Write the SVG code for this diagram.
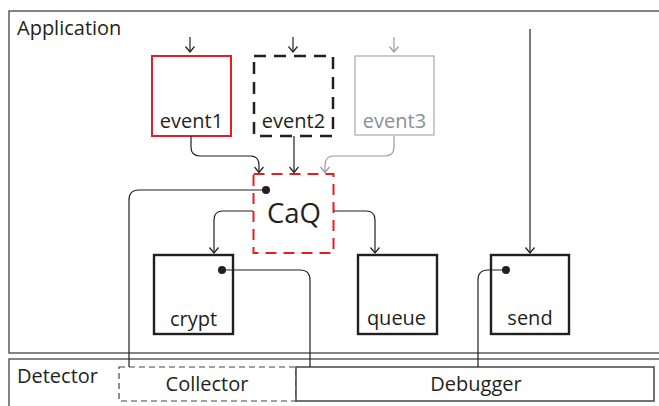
<svg xmlns="http://www.w3.org/2000/svg" width="659" height="406" viewBox="0 0 659 406">
<style>
text{font-family:"Open Sans","Noto Sans","Liberation Sans",sans-serif;fill:#231f20;font-size:20px}
.c{text-anchor:middle}
.frame{fill:none;stroke:#444;stroke-width:1.3}
.box{fill:#fff;stroke:#231f20;stroke-width:2.4}
.conn{fill:none;stroke:#231f20;stroke-width:1.2}
.gray{stroke:#9a9a9a}
</style>
<defs>
<marker id="ah" viewBox="-7 -6 8 12" markerWidth="8" markerHeight="12" refX="0" refY="0" orient="auto" markerUnits="userSpaceOnUse"><path d="M-5.5,-4.5 L0,0 L-5.5,4.5" fill="none" stroke="#231f20" stroke-width="1.2"/></marker>
<marker id="ahg" viewBox="-7 -6 8 12" markerWidth="8" markerHeight="12" refX="0" refY="0" orient="auto" markerUnits="userSpaceOnUse"><path d="M-5.5,-4.5 L0,0 L-5.5,4.5" fill="none" stroke="#9a9a9a" stroke-width="1.2"/></marker>
</defs>
<rect width="659" height="406" fill="#fff"/>
<g id="application">
<rect class="frame" x="9" y="11" width="660" height="342"/>
<text x="17" y="34.5">Application</text>
</g>
<g id="detector">
<rect class="frame" x="9" y="359" width="660" height="60"/>
<text x="17" y="383">Detector</text>
</g>
<g id="collector">
<rect x="119" y="367" width="177" height="34" fill="#fff" stroke="#444" stroke-width="1.2" stroke-dasharray="6,4"/>
<text class="c" x="207" y="391">Collector</text>
</g>
<g id="debugger">
<rect x="296" y="367" width="358" height="34" fill="#fff" stroke="#444" stroke-width="1.5"/>
<text class="c" x="476" y="391">Debugger</text>
</g>
<g id="event1">
<rect x="152" y="56" width="79" height="80" fill="#fff" stroke="#e31e24" stroke-width="2"/>
<text class="c" x="191.5" y="128">event1</text>
</g>
<g id="event2">
<rect x="254" y="56" width="79" height="80" fill="#fff" stroke="#231f20" stroke-width="2.5" stroke-dasharray="12,8"/>
<text class="c" x="293.5" y="128">event2</text>
</g>
<g id="event3">
<rect x="355" y="56" width="79" height="79" fill="#fff" stroke="#a8a8a8" stroke-width="1.2"/>
<text class="c" x="394.5" y="128" style="fill:#8a9096">event3</text>
</g>
<g id="caq">
<rect x="253.5" y="174" width="80" height="79" fill="#fff" stroke="#e31e24" stroke-width="2" stroke-dasharray="11,7"/>
<text class="c" x="294" y="222.5" style="font-size:27.5px">CaQ</text>
</g>
<g id="crypt">
<rect class="box" x="154" y="255" width="79" height="79"/>
<text class="c" x="193.5" y="326">crypt</text>
</g>
<g id="queue">
<rect class="box" x="358" y="255" width="79" height="79"/>
<text class="c" x="396.5" y="325">queue</text>
</g>
<g id="send">
<rect class="box" x="491" y="255" width="78" height="79"/>
<text class="c" x="530" y="325">send</text>
</g>
<g id="connectors">
<path class="conn" d="M190,37 V52" marker-end="url(#ah)"/>
<path class="conn" d="M293,37 V52" marker-end="url(#ah)"/>
<path class="conn gray" d="M394,37 V52" marker-end="url(#ahg)"/>
<path class="conn" d="M530,29 V253" marker-end="url(#ah)"/>
<path class="conn" d="M191,136 V147 Q191,156 200,156 H250 Q259,156 259,165 V172.5" marker-end="url(#ah)"/>
<path class="conn" d="M294,136 V172.5" marker-end="url(#ah)"/>
<path class="conn gray" d="M394,136 V147 Q394,156 385,156 H334 Q325,156 325,165 V172.5" marker-end="url(#ahg)"/>
<path class="conn" d="M253,211 H223 Q214,211 214,220 V253" marker-end="url(#ah)"/>
<path class="conn" d="M334,211 H366 Q375,211 375,220 V253" marker-end="url(#ah)"/>
<path class="conn" d="M266,190 H139 Q129,190 129,200 V367"/>
<path class="conn" d="M222,270 H300 Q310,270 310,280 V367"/>
<path class="conn" d="M506,270 H488 Q478,270 478,280 V367"/>
<circle cx="266" cy="190" r="4" fill="#231f20"/>
<circle cx="222" cy="270" r="4" fill="#231f20"/>
<circle cx="506" cy="270" r="4" fill="#231f20"/>
</g>
</svg>
